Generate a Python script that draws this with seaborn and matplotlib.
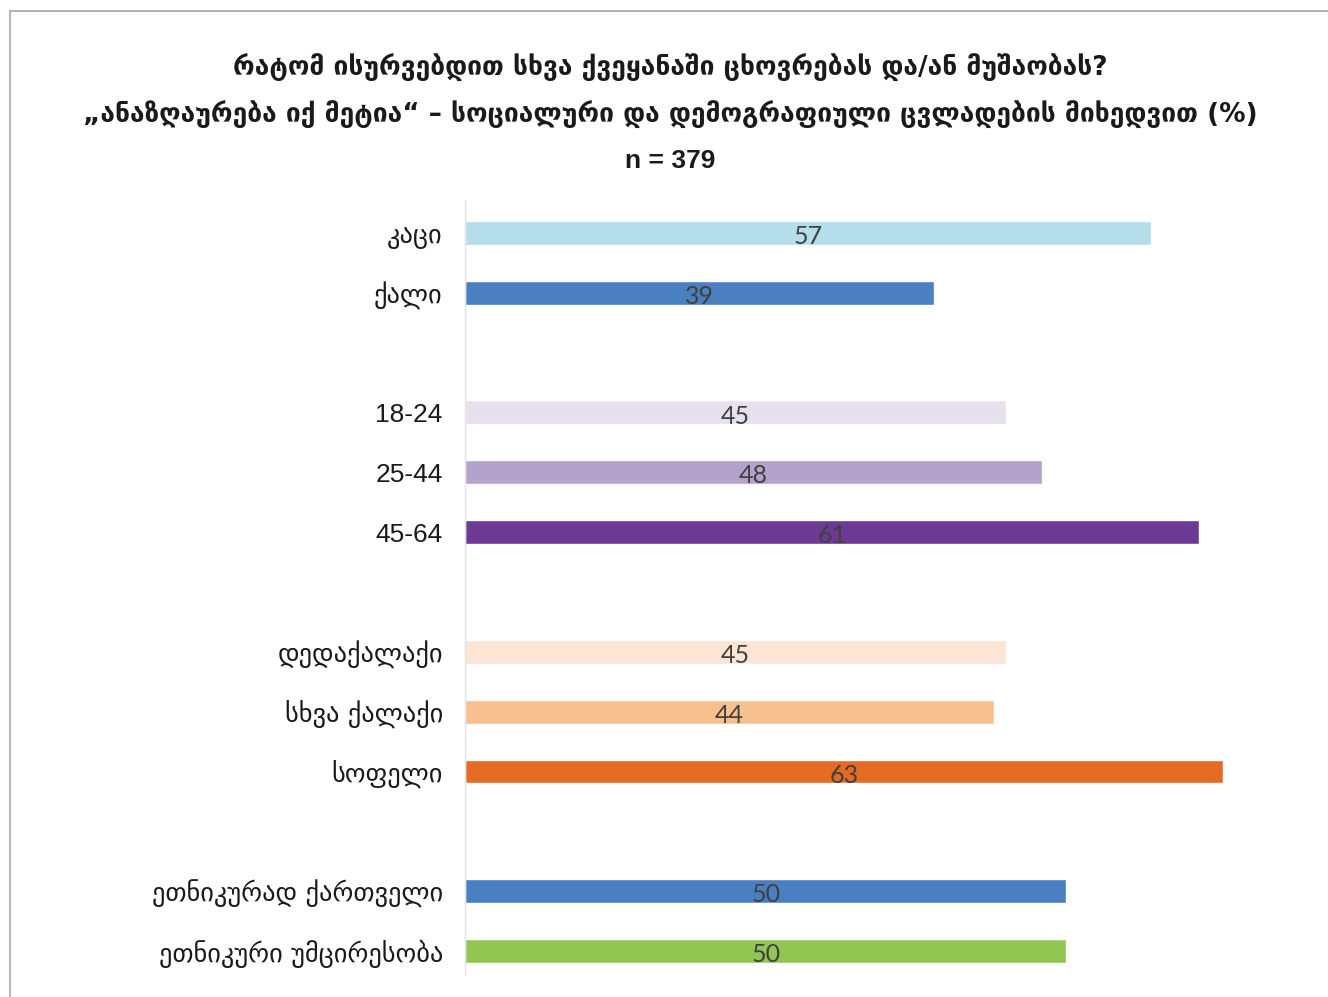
import matplotlib
matplotlib.use("Agg")
import matplotlib.pyplot as plt
import numpy as np
import pandas as pd
import seaborn as sns
from matplotlib.lines import Line2D

# ── Data ─────────────────────────────────────────────────────────────────────
CATEGORIES = [
    "კაცი", "ქალი", " ",
    "18-24", "25-44", "45-64", "  ",
    "დედაქალაქი", "სხვა ქალაქი", "სოფელი", "   ",
    "ეთნიკურად ქართველი", "ეთნიკური უმცირესობა",
]
VALUES = [57, 39, np.nan, 45, 48, 61, np.nan, 45, 44, 63, np.nan, 50, 50]
COLORS = [
    "#b4dee9", "#4a7fc1", "#ffffff",
    "#e7e0ef", "#b3a2cb", "#6c3995", "#ffffff",
    "#fce5d4", "#f8bf8f", "#e56b24", "#ffffff",
    "#4a7fc1", "#92c653",
]

TITLE_1 = "რატომ ისურვებდით სხვა ქვეყანაში ცხოვრებას და/ან მუშაობას?"
TITLE_2 = "„ანაზღაურება იქ მეტია“ – სოციალური და დემოგრაფიული ცვლადების მიხედვით (%)"
TITLE_3 = "n = 379"

df = pd.DataFrame({"label": CATEGORIES, "value": VALUES})
palette = dict(zip(CATEGORIES, COLORS))

# ── Figure ───────────────────────────────────────────────────────────────────
sns.set_style("white")
plt.rcParams["font.family"] = ["DejaVu Sans"]

W, H = 1328, 997
fig = plt.figure(figsize=(W / 100, H / 100), dpi=100)
ax = fig.add_axes([465 / W, 1 - 975 / H, (1307 - 465) / W, (975 - 200) / H])

sns.barplot(
    data=df, x="value", y="label", hue="label", palette=palette,
    order=CATEGORIES, orient="h", width=0.4, legend=False,
    saturation=1, ax=ax,
)

ax.set_xlim(0, 70)
ax.set_ylim(12.4, -0.55)
ax.set_xlabel("")
ax.set_ylabel("")
ax.set_xticks([])
ax.tick_params(axis="y", length=0, pad=16, labelcolor="#1a1a1a")
for lbl in ax.get_yticklabels():
    txt = lbl.get_text()
    if txt[:1].isdigit():
        lbl.set_fontfamily("Liberation Sans")
    lbl.set_fontsize(19)
for side in ("top", "right", "bottom"):
    ax.spines[side].set_visible(False)
ax.spines["left"].set_color("#e3e3e3")
ax.spines["left"].set_linewidth(1.0)

for i, v in enumerate(VALUES):
    if np.isnan(v):
        continue
    ax.text(v / 2, i + 0.06, f"{v:.0f}", ha="center", va="center",
            fontsize=18, color="#404040", family="Lato")

# titles
cx = 670 / W
fig.text(cx, 1 - 68 / H, TITLE_1, ha="center", va="center",
         fontsize=19, fontweight="bold", color="#1a1a1a")
fig.text(cx, 1 - 115 / H, TITLE_2, ha="center", va="center",
         fontsize=19, fontweight="bold", color="#1a1a1a")
fig.text(cx, 1 - 161 / H, TITLE_3, ha="center", va="center",
         fontsize=19, fontweight="bold", color="#1a1a1a",
         family="Liberation Sans")

# outer frame
fig.add_artist(Line2D([10 / W, 1], [1 - 11 / H, 1 - 11 / H],
                      transform=fig.transFigure, color="#a6a6a6", lw=1.2))
fig.add_artist(Line2D([10 / W, 10 / W], [0, 1 - 11 / H],
                      transform=fig.transFigure, color="#a6a6a6", lw=1.2))

fig.savefig("out.png", dpi=100)
